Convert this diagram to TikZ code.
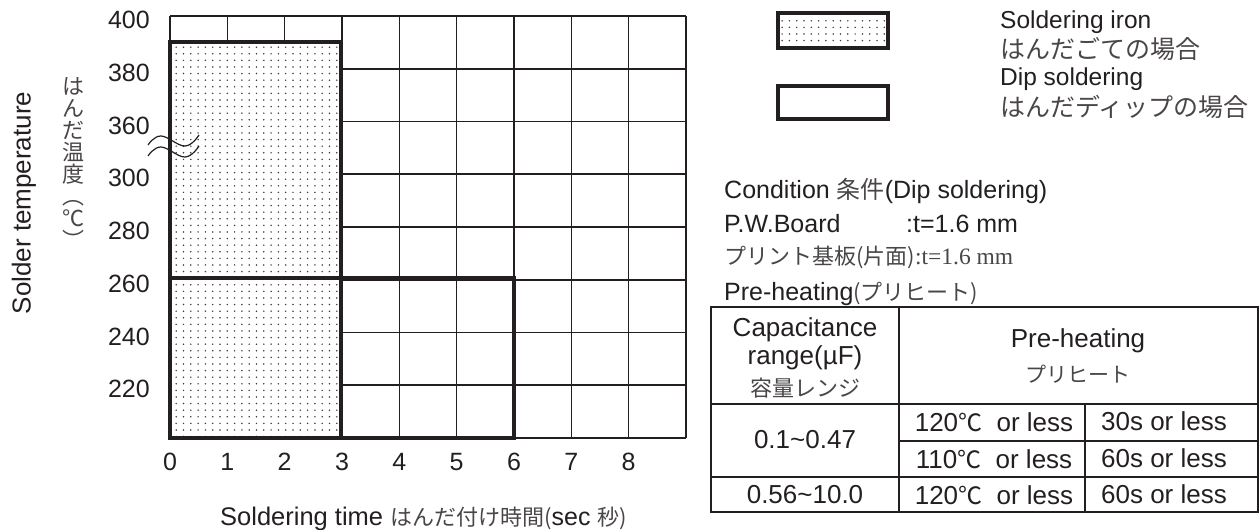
\documentclass[tikz,border=0pt]{standalone}
\usepackage{fontspec}
\setmainfont{Liberation Sans}
\newfontfamily\cjk{Noto Sans CJK JP}
\newfontfamily\tms{Liberation Serif}
\usetikzlibrary{patterns}
\definecolor{ink}{HTML}{231F20}
\definecolor{jink}{HTML}{4A4648}
\pgfdeclarepatternformonly{sparsedots}{\pgfqpoint{0pt}{0pt}}{\pgfqpoint{2pt}{2pt}}{\pgfqpoint{7.3pt}{6.6pt}}{\pgfpathcircle{\pgfqpoint{1pt}{1pt}}{0.85pt}\pgfusepath{fill}}
\newcommand{\jp}[2]{{\cjk\fontsize{#1}{#1}\selectfont\color{jink}#2}}
\newcommand{\fs}[1]{\fontsize{#1}{#1}\selectfont}
\tikzset{
  gridline/.style={draw=ink, line width=1.6pt},
  thickline/.style={draw=ink, line width=4pt, line join=miter},
  tabline/.style={draw=ink, line width=2.2pt},
  breakline/.style={draw=ink, line width=1.2pt},
  lbl/.style={inner sep=0pt, text=ink},
}
\begin{document}
\begin{tikzpicture}[x=1pt, y=-1pt, font=\fs{25}]
\useasboundingbox (0,0) rectangle (1259,530);
% grid
\foreach \i in {0,...,9} \draw[gridline] (170+57.333*\i,16) -- (170+57.333*\i,438);
\foreach \j in {0,...,8} \draw[gridline] (170,16+52.75*\j) -- (686,16+52.75*\j);
% soldering iron area
\fill[white] (170,42) rectangle (341,438);
\fill[pattern=sparsedots, pattern color=black!75] (170,42) rectangle (341,438);
\draw[thickline] (170,42) rectangle (341,438);
% dip soldering area
\draw[thickline] (170,278) -- (514,278) -- (514,438) -- (170,438);
% break marks
\draw[breakline] plot[smooth, tension=0.7] coordinates {(148,145) (161,136) (185,146) (199,135)};
\draw[breakline] plot[smooth, tension=0.7] coordinates {(148,156) (161,147) (185,157) (199,146)};
% y tick labels
\foreach \v/\y in {400/16,380/68.75,360/121.5,300/174.25,280/227,260/279.75,240/332.5,220/385.25}
  \node[lbl, anchor=east] (yl\v) at (150,\y+4) {\v};
% x tick labels
\foreach \t in {0,...,8}
  \node[lbl] (xl\t) at (170+57.333*\t,462) {\t};
% axis titles
\node[lbl, rotate=90, font=\fs{26}] (ytitle) at (24,203) {Solder temperature};
\node[lbl, font=\cjk\fontsize{22}{22}\selectfont, text=jink, align=center] (yjp) at (73,163)
  {は\\ん\\だ\\温\\度\\︵\\℃\\︶};
\node[lbl, anchor=base west] (xtitle) at (220,525) {\fs{25.5}Soldering time \jp{22}{はんだ付け時間(}\fs{25}sec \jp{22}{秒)}};
% legend
\fill[white] (778,13) rectangle (888,48);
\fill[pattern=sparsedots, pattern color=black!75] (778,13) rectangle (888,48);
\draw[thickline] (778,13) rectangle (888,48);
\draw[thickline] (778,86) rectangle (888,119);
\node[lbl, anchor=base west, font=\fs{24.5}] (leg1) at (1000,28) {Soldering iron};
\node[lbl, anchor=west] (leg2) at (1000,49) {\jp{25}{はんだごての場合}};
\node[lbl, anchor=base west, font=\fs{24.5}] (leg3) at (1000,85) {Dip soldering};
\node[lbl, anchor=west] (leg4) at (1000,107) {\jp{25}{はんだディップの場合}};
% condition text
\node[lbl, anchor=base west] (cond1) at (724,198) {Condition \jp{24}{条件}(Dip soldering)};
\node[lbl, anchor=base west] (cond2) at (724,232) {P.W.Board};
\node[lbl, anchor=base west] (cond2b) at (906,232) {:t=1.6 mm};
\node[lbl, anchor=west] (cond3) at (724,257) {\jp{22}{プリント基板(片面)}{\tms\fs{23.5}\color{jink}:t=1.6 mm}};
\node[lbl, anchor=base west] (cond4) at (724,300) {Pre-heating\jp{22}{(プリヒート)}};
% table
\draw[tabline] (711,307) rectangle (1258,512);
\draw[tabline] (899,307) -- (899,512);
\draw[tabline] (711,404) -- (1258,404);
\draw[tabline] (711,477) -- (1258,477);
\draw[tabline] (899,441) -- (1258,441);
\draw[tabline] (1085,404) -- (1085,512);
\begin{scope}[every node/.append style={font=\fs{26}}]
\node[lbl, anchor=base] (h1a) at (805,336) {Capacitance};
\node[lbl, anchor=base] (h1b) at (805,364) {range(µF)};
\node[lbl] (h1c) at (805,388) {\jp{22}{容量レンジ}};
\node[lbl, anchor=base] (h2a) at (1078,347) {Pre-heating};
\node[lbl] (h2b) at (1078,374) {\jp{21}{プリヒート}};
\node[lbl] (r1a) at (805,440) {0.1\textasciitilde0.47};
\node[lbl] (r3a) at (805,495) {0.56\textasciitilde10.0};
\node[lbl] (r1b) at (994,422) {120{\cjk\fs{24}℃}\ \ or less};
\node[lbl] (r2b) at (994,459) {110{\cjk\fs{24}℃}\ \ or less};
\node[lbl] (r3b) at (994,495) {120{\cjk\fs{24}℃}\ \ or less};
\node[lbl] (r1c) at (1164,421) {30s or less};
\node[lbl] (r2c) at (1164,458) {60s or less};
\node[lbl] (r3c) at (1164,494) {60s or less};
\end{scope}
\end{tikzpicture}
\end{document}
